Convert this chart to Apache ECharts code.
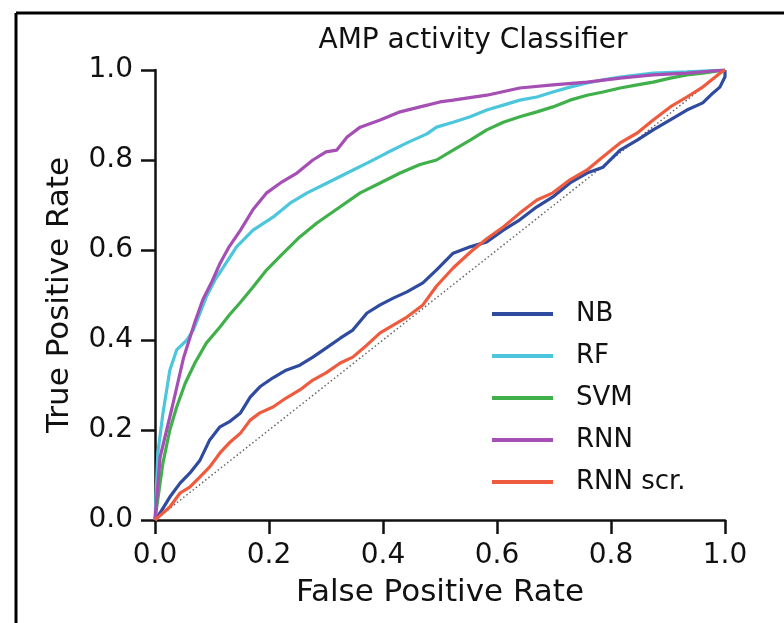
<!DOCTYPE html>
<html><head><meta charset="utf-8">
<script src="https://cdn.jsdelivr.net/npm/echarts@6/dist/echarts.min.js"></script>
<style>html,body{margin:0;padding:0;background:#fff}#c{width:784px;height:623px}</style>
</head><body><div id="c"></div>
<script>
const seriesNames = ['NB', 'RF', 'SVM', 'RNN', 'RNN scr.'];
const seriesColors = ['#2f4ba0', '#4cc6dc', '#3fb04a', '#a54fb5', '#ef5b3e'];
const xTicks = [0, 0.2, 0.4, 0.6, 0.8, 1.0];

const nbFpr = [0, 0.009, 0.026, 0.044, 0.061, 0.079, 0.096, 0.114, 0.13, 0.15, 0.167, 0.184, 0.207, 0.23, 0.254, 0.277, 0.30, 0.325, 0.347, 0.372, 0.395, 0.418, 0.442, 0.47, 0.494, 0.523, 0.553, 0.582, 0.611, 0.64, 0.67, 0.698, 0.728, 0.758, 0.786, 0.816, 0.846, 0.874, 0.904, 0.933, 0.961, 0.979, 0.991, 1.0, 1.0];
const nbTpr = [0, 0.016, 0.051, 0.082, 0.104, 0.133, 0.178, 0.207, 0.218, 0.238, 0.273, 0.296, 0.316, 0.333, 0.344, 0.362, 0.382, 0.404, 0.422, 0.46, 0.478, 0.493, 0.507, 0.527, 0.556, 0.593, 0.607, 0.618, 0.644, 0.667, 0.696, 0.718, 0.749, 0.771, 0.784, 0.822, 0.844, 0.867, 0.889, 0.911, 0.927, 0.949, 0.962, 0.985, 1.0];

const rfFpr = [0, 0.005, 0.014, 0.026, 0.038, 0.056, 0.067, 0.079, 0.09, 0.105, 0.12, 0.143, 0.172, 0.207, 0.237, 0.267, 0.302, 0.337, 0.372, 0.407, 0.442, 0.477, 0.494, 0.523, 0.553, 0.582, 0.611, 0.64, 0.67, 0.698, 0.728, 0.758, 0.786, 0.816, 0.874, 0.933, 1.0];
const rfTpr = [0, 0.149, 0.238, 0.333, 0.378, 0.40, 0.422, 0.46, 0.496, 0.533, 0.562, 0.607, 0.644, 0.673, 0.704, 0.727, 0.749, 0.771, 0.793, 0.816, 0.838, 0.858, 0.873, 0.884, 0.896, 0.911, 0.922, 0.933, 0.94, 0.951, 0.962, 0.971, 0.978, 0.984, 0.993, 0.996, 1.0];

const svmFpr = [0, 0.003, 0.014, 0.026, 0.038, 0.053, 0.07, 0.09, 0.114, 0.13, 0.15, 0.172, 0.196, 0.225, 0.254, 0.284, 0.325, 0.36, 0.395, 0.43, 0.465, 0.494, 0.523, 0.553, 0.582, 0.611, 0.64, 0.67, 0.698, 0.728, 0.758, 0.786, 0.816, 0.846, 0.874, 0.904, 0.933, 0.961, 1.0];
const svmTpr = [0, 0.029, 0.127, 0.20, 0.251, 0.304, 0.349, 0.393, 0.429, 0.455, 0.484, 0.518, 0.556, 0.593, 0.629, 0.66, 0.696, 0.727, 0.749, 0.771, 0.79, 0.80, 0.822, 0.844, 0.867, 0.884, 0.896, 0.907, 0.918, 0.933, 0.944, 0.951, 0.96, 0.967, 0.973, 0.982, 0.989, 0.993, 1.0];

const rnnFpr = [0, 0.009, 0.03, 0.05, 0.07, 0.084, 0.1, 0.114, 0.13, 0.15, 0.172, 0.196, 0.22, 0.249, 0.277, 0.30, 0.319, 0.337, 0.36, 0.395, 0.43, 0.465, 0.50, 0.523, 0.582, 0.64, 0.698, 0.758, 0.816, 0.874, 0.933, 1.0];
const rnnTpr = [0, 0.14, 0.25, 0.36, 0.44, 0.49, 0.53, 0.57, 0.607, 0.644, 0.69, 0.727, 0.749, 0.771, 0.80, 0.818, 0.822, 0.851, 0.873, 0.889, 0.907, 0.918, 0.929, 0.933, 0.944, 0.96, 0.967, 0.973, 0.982, 0.989, 0.993, 1.0];

const scrFpr = [0, 0.003, 0.026, 0.044, 0.061, 0.079, 0.096, 0.114, 0.13, 0.15, 0.167, 0.184, 0.207, 0.23, 0.254, 0.277, 0.30, 0.325, 0.347, 0.372, 0.395, 0.418, 0.442, 0.47, 0.494, 0.523, 0.553, 0.582, 0.611, 0.64, 0.67, 0.698, 0.728, 0.758, 0.786, 0.816, 0.846, 0.874, 0.904, 0.933, 0.961, 0.991, 1.0];
const scrTpr = [0, 0.004, 0.029, 0.06, 0.073, 0.096, 0.118, 0.149, 0.171, 0.193, 0.222, 0.238, 0.251, 0.271, 0.289, 0.311, 0.327, 0.349, 0.362, 0.389, 0.416, 0.433, 0.451, 0.478, 0.52, 0.56, 0.595, 0.625, 0.651, 0.682, 0.711, 0.727, 0.756, 0.778, 0.807, 0.838, 0.86, 0.889, 0.918, 0.94, 0.962, 0.993, 1.0];

const chanceFpr = [0, 1];
const chanceTpr = [0, 1];

const fprs = [nbFpr, rfFpr, svmFpr, rnnFpr, scrFpr];
const tprs = [nbTpr, rfTpr, svmTpr, rnnTpr, scrTpr];

const zip = (a, b) => a.map((v, i) => [v, b[i]]);
const font = 'DejaVu Sans';

const series = [{
  type: 'line', data: zip(chanceFpr, chanceTpr), showSymbol: false, silent: true,
  lineStyle: { color: '#666', width: 1.5, type: [1.5, 2.5] }, z: 1
}];
seriesNames.forEach((n, i) => {
  series.push({
    name: n, type: 'line', data: zip(fprs[i], tprs[i]), showSymbol: false,
    lineStyle: { color: seriesColors[i], width: 3.2 }, itemStyle: { color: seriesColors[i] }, z: 2 + i
  });
});

const chart = echarts.init(document.getElementById('c'), null, { renderer: 'canvas' });
chart.setOption({
  animation: false,
  backgroundColor: '#fff',
  title: {
    text: 'AMP activity Classifier', left: 468, top: 22, textAlign: 'center',
    textStyle: { fontFamily: font, fontWeight: 'normal', fontSize: 28, color: '#111' }
  },
  grid: { left: 155, right: 59, top: 70, bottom: 103 },
  legend: {
    orient: 'vertical', left: 487, top: 294,
    data: seriesNames, icon: 'rect', itemWidth: 61, itemHeight: 4, itemGap: 12,
    textStyle: { fontFamily: font, fontSize: 26, color: '#111', padding: [0, 0, 0, 18], lineHeight: 30 }
  },
  xAxis: {
    type: 'value', min: 0, max: 1, interval: 0.2,
    name: 'False Positive Rate', nameLocation: 'middle', nameGap: 57,
    nameTextStyle: { fontFamily: font, fontSize: 31, color: '#111' },
    axisLine: { lineStyle: { color: '#111', width: 2.5 } },
    axisTick: { length: 14, lineStyle: { color: '#111', width: 2.5 } },
    axisLabel: { fontFamily: font, fontSize: 28, color: '#111', margin: 22, formatter: v => v.toFixed(1) },
    splitLine: { show: false }
  },
  yAxis: {
    type: 'value', min: 0, max: 1, interval: 0.2,
    name: 'True Positive Rate', nameLocation: 'middle', nameGap: 80,
    nameTextStyle: { fontFamily: font, fontSize: 31, color: '#111' },
    axisLine: { show: true, lineStyle: { color: '#111', width: 2.5 } },
    axisTick: { show: true, length: 14, lineStyle: { color: '#111', width: 2.5 } },
    axisLabel: { fontFamily: font, fontSize: 28, color: '#111', margin: 22, formatter: v => v.toFixed(1) },
    splitLine: { show: false }
  },
  graphic: [
    { type: 'line', shape: { x1: 16, y1: 13, x2: 784, y2: 13 }, style: { stroke: '#000', lineWidth: 3 } },
    { type: 'line', shape: { x1: 16, y1: 13, x2: 16, y2: 623 }, style: { stroke: '#000', lineWidth: 3 } }
  ],
  series: series
});
</script></body></html>
